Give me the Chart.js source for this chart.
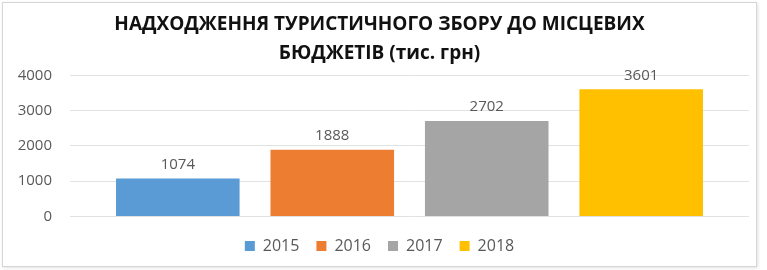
<!DOCTYPE html>
<html lang="uk">
<head>
<meta charset="utf-8">
<title>Надходження туристичного збору</title>
<script src="https://cdn.jsdelivr.net/npm/chart.js@4.4.1/dist/chart.umd.min.js"></script>
<style>
    html, body { margin: 0; padding: 0; background: #fff; }
    .frame {
        position: absolute; left: 2px; top: 2px;
        width: 753px; height: 263px;
        border: 1px solid #d6d6d6;
        box-shadow: 1px 1px 3px rgba(0, 0, 0, 0.12);
        background: #fff;
    }
    .chart-wrap { position: absolute; left: 0; top: 0; width: 767px; height: 270px; }
</style>
</head>
<body>
<div class="frame"></div>
<div class="chart-wrap"><canvas id="touristTaxChart"></canvas></div>
<script>
// дані з діаграми
const years = ['2015', '2016', '2017', '2018'];
const revenue = [1074, 1888, 2702, 3601];
const barColors = ['#5B9BD5', '#ED7D31', '#A5A5A5', '#FFC000'];
const yTicks = [0, 1000, 2000, 3000, 4000];
const titleLines = ['НАДХОДЖЕННЯ ТУРИСТИЧНОГО ЗБОРУ ДО МІСЦЕВИХ', 'БЮДЖЕТІВ (тис. грн)'];

const textGrey = '#595959';

// підписи значень над стовпцями
const valueLabels = {
    id: 'valueLabels',
    afterDatasetsDraw(chart) {
        const ctx = chart.ctx;
        const meta = chart.getDatasetMeta(0);
        ctx.save();
        ctx.font = '15px "Open Sans", sans-serif';
        ctx.fillStyle = textGrey;
        ctx.textAlign = 'center';
        ctx.textBaseline = 'middle';
        meta.data.forEach((bar, i) => {
            ctx.fillText(String(revenue[i]), bar.x, bar.y - 14);
        });
        ctx.restore();
    }
};

document.addEventListener('DOMContentLoaded', function() {
    const ctx = document.getElementById('touristTaxChart');
    new Chart(ctx, {
        type: 'bar',
        data: {
            datasets: [{
                data: revenue.map((v, i) => ({ x: i, y: v })),
                backgroundColor: barColors,
                borderWidth: 0,
                barPercentage: 0.8,
                categoryPercentage: 1.0
            }]
        },
        options: {
            responsive: true,
            maintainAspectRatio: false,
            animation: false,
            layout: { padding: { left: 10, right: 18, top: 0, bottom: 6 } },
            plugins: {
                title: {
                    display: true,
                    text: titleLines,
                    color: '#111',
                    font: { family: '"Open Sans", sans-serif', size: 19, weight: 'bold', lineHeight: 1.48 },
                    padding: { top: 11, bottom: 8 }
                },
                legend: {
                    position: 'bottom',
                    onClick: null,
                    labels: {
                        color: textGrey,
                        font: { family: '"Open Sans", sans-serif', size: 16 },
                        boxWidth: 10,
                        boxHeight: 10,
                        padding: 17,
                        generateLabels: function() {
                            return years.map((label, i) => ({
                                text: label,
                                fillStyle: barColors[i],
                                strokeStyle: barColors[i],
                                lineWidth: 0,
                                fontColor: textGrey,
                                index: i
                            }));
                        }
                    }
                },
                tooltip: { enabled: false }
            },
            scales: {
                x: {
                    type: 'linear',
                    offset: false,
                    min: -0.698,
                    max: 3.698,
                    afterBuildTicks: function(scale) {
                        scale.ticks = years.map((y, i) => ({ value: i }));
                    },
                    grid: { display: false },
                    border: { display: false },
                    ticks: { display: false },
                    afterFit: function(scale) { scale.height = 4.5; }
                },
                y: {
                    min: 0,
                    max: 4000,
                    afterBuildTicks: function(scale) {
                        scale.ticks = yTicks.map(v => ({ value: v }));
                    },
                    afterFit: function(scale) { scale.width = 60; },
                    grid: { color: '#e2e2e2', lineWidth: 1, drawTicks: false },
                    border: { display: false },
                    ticks: {
                        color: textGrey,
                        padding: 18,
                        font: { family: '"Open Sans", sans-serif', size: 15 },
                        callback: function(value) { return String(value); }
                    }
                }
            }
        },
        plugins: [valueLabels]
    });
});
</script>
</body>
</html>
